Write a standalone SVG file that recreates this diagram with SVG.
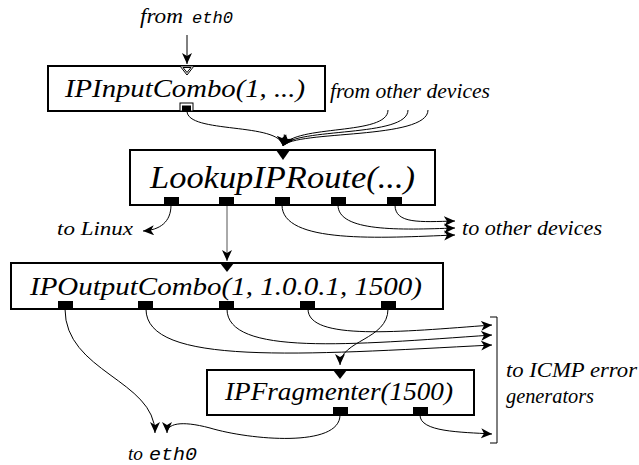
<svg xmlns="http://www.w3.org/2000/svg" width="639" height="465" viewBox="0 0 639 465">
<style>
.box{fill:#fff;stroke:#000;stroke-width:2}
.port{fill:#000}
.t{font-family:"Liberation Serif",serif;font-style:italic;fill:#000}
.m{font-family:"Liberation Mono",monospace;font-style:italic}
.c{fill:none;stroke:#000;stroke-width:1;marker-end:url(#ah)}
.in{fill:#000}
</style>
<defs>
<marker id="ah" markerUnits="userSpaceOnUse" markerWidth="14" markerHeight="12" refX="11" refY="5" orient="auto">
<path d="M0,0 L11,5 L0,10 L3,5 Z" fill="#000"/>
</marker>
</defs>
<rect width="639" height="465" fill="#fff"/>

<g id="connectors">
<path class="c" d="M187,35 L187,64"/>
<path class="c" d="M187,111 C187,134 280,122 283,146"/>
<path class="c" d="M388,110 C388,136 295,124 283,146"/>
<path class="c" d="M408,110 C408,138 295,127 283,146"/>
<path class="c" d="M428,110 C428,140 295,130 283,146"/>
<path class="c" d="M171,205 C171,222 160,230 143,231"/>
<path class="c" d="M227,205 L227,261" style="stroke:#555"/>
<path class="c" d="M282,205 C282,244 380,238 455,235"/>
<path class="c" d="M338,205 C338,232 400,230 455,228"/>
<path class="c" d="M395,205 C395,224 420,222 455,221"/>
<path class="c" d="M65,309 C65,372 155,380 155,433"/>
<path class="c" d="M146,309 C146,366 300,355 492,345"/>
<path class="c" d="M227,309 C227,356 350,345 492,335"/>
<path class="c" d="M308,309 C308,341 400,332 492,325"/>
<path class="c" d="M388,309 C388,340 340,340 340,365"/>
<path class="c" d="M340,415 C340,448 250,440 210,428 C180,420 167,424 167,433"/>
<path class="c" d="M420,415 C420,432 460,432 492,434"/>
</g>

<text class="t" y="23" font-size="20"><tspan x="140" textLength="43" lengthAdjust="spacingAndGlyphs">from</tspan><tspan class="m" x="192" font-size="17" textLength="41" lengthAdjust="spacingAndGlyphs">eth0</tspan></text>

<g id="IPInputCombo">
<rect class="box" x="48" y="66" width="277" height="45"/>
<polygon points="180,66 194,66 187,75" fill="#fff" stroke="#000" stroke-width="1"/>
<polygon points="183,67.5 191,67.5 187,72.5" fill="none" stroke="#000" stroke-width="1"/>
<rect x="180" y="103" width="13" height="8" fill="#fff" stroke="#000" stroke-width="1"/>
<rect class="port" x="182" y="105.5" width="9" height="5.5"/>
<text class="t" x="65" y="97" font-size="26" textLength="240" lengthAdjust="spacingAndGlyphs">IPInputCombo(1, ...)</text>
</g>

<text class="t" x="330" y="98" font-size="20" textLength="160" lengthAdjust="spacingAndGlyphs">from other devices</text>

<g id="LookupIPRoute">
<rect class="box" x="130" y="150" width="305" height="55"/>
<polygon class="in" points="276,150 290,150 283,160"/>
<rect class="port" x="164" y="197" width="15" height="8"/>
<rect class="port" x="219" y="197" width="15" height="8"/>
<rect class="port" x="275" y="197" width="15" height="8"/>
<rect class="port" x="331" y="197" width="15" height="8"/>
<rect class="port" x="387" y="197" width="15" height="8"/>
<text class="t" x="150" y="188" font-size="32" textLength="265" lengthAdjust="spacingAndGlyphs">LookupIPRoute(...)</text>
</g>

<text class="t" x="57" y="235" font-size="19" textLength="76" lengthAdjust="spacingAndGlyphs">to Linux</text>
<text class="t" x="462" y="235" font-size="20" textLength="140" lengthAdjust="spacingAndGlyphs">to other devices</text>

<g id="IPOutputCombo">
<rect class="box" x="11" y="263" width="432" height="46"/>
<polygon class="in" points="220,263 234,263 227,272"/>
<rect class="port" x="58" y="301" width="15" height="8"/>
<rect class="port" x="138" y="301" width="15" height="8"/>
<rect class="port" x="219" y="301" width="15" height="8"/>
<rect class="port" x="300" y="301" width="15" height="8"/>
<rect class="port" x="381" y="301" width="15" height="8"/>
<text class="t" x="30" y="295" font-size="26" textLength="392" lengthAdjust="spacingAndGlyphs">IPOutputCombo(1, 1.0.0.1, 1500)</text>
</g>

<g id="IPFragmenter">
<rect class="box" x="207" y="370" width="267" height="45"/>
<polygon class="in" points="333,370 347,370 340,379"/>
<rect class="port" x="333" y="407" width="15" height="8"/>
<rect class="port" x="413" y="407" width="15" height="8"/>
<text class="t" x="225" y="400" font-size="26" textLength="228" lengthAdjust="spacingAndGlyphs">IPFragmenter(1500)</text>
</g>

<path d="M490,317 L497,317 L497,443 L490,443" fill="none" stroke="#000" stroke-width="1"/>
<text class="t" x="506" y="377" font-size="20" textLength="131" lengthAdjust="spacingAndGlyphs">to ICMP error</text>
<text class="t" x="506" y="403" font-size="20" textLength="88" lengthAdjust="spacingAndGlyphs">generators</text>
<text class="t" y="460" font-size="19"><tspan x="128" textLength="15" lengthAdjust="spacingAndGlyphs">to</tspan><tspan class="m" x="149" font-size="18" textLength="48" lengthAdjust="spacingAndGlyphs">eth0</tspan></text>
</svg>
